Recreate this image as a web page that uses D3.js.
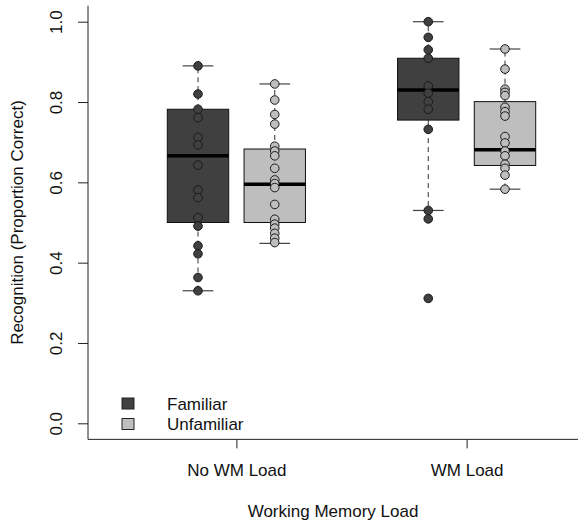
<!DOCTYPE html>
<html>
<meta charset="utf-8">
<title>Recognition by WM load</title>
<style>
  html, body {
    margin: 0;
    padding: 0;
    background: #fff;
}

svg text {
    font-family: "Liberation Sans", Arial, Helvetica, sans-serif;
    font-size: 17px;
    fill: #111;
}

.frame {
    fill: none;
    stroke: #222;
    stroke-width: 1;
}

.whisker {
    stroke: #333;
    stroke-dasharray: 5,4;
}

.cap {
    stroke: #444;
    stroke-width: 1.2;
}

.box {
    stroke: #111;
    stroke-width: 1;
}

.median {
    stroke: #000;
    stroke-width: 3.5;
}

.dot {
    stroke: #1a1a1a;
    stroke-width: 1;
}
</style>

<body>
    <div id="chart"></div>
    <script src="https://d3js.org/d3.v7.min.js"></script>
    <script>
    // groups on the x axis and the two conditions inside each
    var groups = ["No WM Load", "WM Load"];
    var conditions = ["Familiar", "Unfamiliar"];
    var colors = ["#404040", "#bebebe"];

    // individual scores (proportion correct)
    var familiarNoLoad = [0.890, 0.820, 0.782, 0.761, 0.712, 0.693, 0.643, 0.581, 0.562, 0.512, 0.491, 0.442, 0.422, 0.363, 0.330];
    var unfamiliarNoLoad = [0.845, 0.805, 0.769, 0.745, 0.690, 0.678, 0.666, 0.635, 0.606, 0.597, 0.587, 0.545, 0.508, 0.496, 0.486, 0.473, 0.461, 0.450];
    var familiarLoad = [1.000, 0.961, 0.930, 0.909, 0.840, 0.822, 0.801, 0.782, 0.732, 0.530, 0.509, 0.311];
    var unfamiliarLoad = [0.932, 0.882, 0.832, 0.824, 0.816, 0.787, 0.776, 0.765, 0.714, 0.698, 0.678, 0.666, 0.645, 0.635, 0.618, 0.583];

    // box statistics, one entry per box (NoLoad-Fam, NoLoad-Unfam, Load-Fam, Load-Unfam)
    var whiskerLow = [0.330, 0.448, 0.530, 0.583];
    var lowerHinge = [0.500, 0.500, 0.755, 0.642];
    var medians = [0.666, 0.595, 0.830, 0.681];
    var upperHinge = [0.782, 0.683, 0.909, 0.801];
    var whiskerHigh = [0.890, 0.845, 1.000, 0.932];

    var yTicks = [0, 0.2, 0.4, 0.6, 0.8, 1.0];

    var width = 581,
        height = 524;

    var scores = [familiarNoLoad, unfamiliarNoLoad, familiarLoad, unfamiliarLoad];
    var boxes = scores.map(function(vals, i) {
        var g = Math.floor(i / 2), c = i % 2;
        return {
            group: g,
            cond: c,
            pos: g * 3 + 1 + c,
            values: vals,
            lo: whiskerLow[i],
            q1: lowerHinge[i],
            med: medians[i],
            q3: upperHinge[i],
            hi: whiskerHigh[i]
        };
    });

    var x = d3.scaleLinear().domain([1, 5]).range([198, 505]);
    var y = d3.scaleLinear().domain([0, 1]).range([423.3, 21.7]);
    var boxWidth = x(1.8) - x(1);
    var capWidth = x(1.4) - x(1);
    var plotLeft = 88, plotRight = 578;
    var plotBottom = y(-0.04), plotTop = y(1.04);

    var svg = d3.select("#chart").append("svg")
        .attr("width", width)
        .attr("height", height);

    svg.append("rect")
        .attr("width", width)
        .attr("height", height)
        .attr("fill", "#fff");

    // L-shaped frame
    svg.append("path")
        .attr("class", "frame")
        .attr("d", "M" + plotLeft + "," + plotTop + "V" + plotBottom + "H" + plotRight);

    // y axis
    var yAxis = svg.append("g")
        .attr("transform", "translate(" + plotLeft + ",0)")
        .call(d3.axisLeft(y).tickValues(yTicks).tickFormat(d3.format(".1f")).tickSize(10));
    yAxis.select(".domain").remove();
    yAxis.selectAll("line").attr("stroke", "#222");
    yAxis.selectAll("text")
        .attr("transform", "rotate(-90)")
        .attr("x", 0)
        .attr("y", -26)
        .attr("dy", 0)
        .attr("text-anchor", "middle")
        .style("font-size", "17px")
        .style("font-family", null);

    // x axis
    var xAxis = svg.append("g")
        .attr("transform", "translate(0," + plotBottom + ")")
        .call(d3.axisBottom(x)
            .tickValues(groups.map(function(d, i) { return i * 3 + 1.5; }))
            .tickFormat(function(d, i) { return groups[i]; })
            .tickSize(9));
    xAxis.select(".domain").remove();
    xAxis.selectAll("line").attr("stroke", "#222");
    xAxis.selectAll("text")
        .attr("y", 37)
        .attr("dy", 0)
        .style("font-size", "17px")
        .style("font-family", null);

    // axis titles
    svg.append("text")
        .attr("x", (plotLeft + plotRight) / 2)
        .attr("y", 517)
        .attr("text-anchor", "middle")
        .text("Working Memory Load");

    svg.append("text")
        .attr("transform", "translate(23," + y(0.5) + ") rotate(-90)")
        .attr("text-anchor", "middle")
        .text("Recognition (Proportion Correct)");

    var box = svg.append("g").selectAll(".boxg")
        .data(boxes)
        .enter().append("g")
        .attr("class", "boxg");

    // whiskers
    box.append("line")
        .attr("class", "whisker")
        .attr("x1", function(d) { return x(d.pos); })
        .attr("x2", function(d) { return x(d.pos); })
        .attr("y1", function(d) { return y(d.q3); })
        .attr("y2", function(d) { return y(d.hi); });
    box.append("line")
        .attr("class", "whisker")
        .attr("x1", function(d) { return x(d.pos); })
        .attr("x2", function(d) { return x(d.pos); })
        .attr("y1", function(d) { return y(d.q1); })
        .attr("y2", function(d) { return y(d.lo); });

    // caps
    ["hi", "lo"].forEach(function(k) {
        box.append("line")
            .attr("class", "cap")
            .attr("x1", function(d) { return x(d.pos) - capWidth / 2; })
            .attr("x2", function(d) { return x(d.pos) + capWidth / 2; })
            .attr("y1", function(d) { return y(d[k]); })
            .attr("y2", function(d) { return y(d[k]); });
    });

    box.append("rect")
        .attr("class", "box")
        .attr("x", function(d) { return x(d.pos) - boxWidth / 2; })
        .attr("width", boxWidth)
        .attr("y", function(d) { return y(d.q3); })
        .attr("height", function(d) { return y(d.q1) - y(d.q3); })
        .attr("fill", function(d) { return colors[d.cond]; });

    box.append("line")
        .attr("class", "median")
        .attr("x1", function(d) { return x(d.pos) - boxWidth / 2; })
        .attr("x2", function(d) { return x(d.pos) + boxWidth / 2; })
        .attr("y1", function(d) { return y(d.med); })
        .attr("y2", function(d) { return y(d.med); });

    // points on top
    box.selectAll(".dot")
        .data(function(d) {
            return d.values.map(function(v) { return {pos: d.pos, cond: d.cond, v: v}; });
        })
        .enter().append("circle")
        .attr("class", "dot")
        .attr("cx", function(d) { return x(d.pos); })
        .attr("cy", function(d) { return y(d.v); })
        .attr("r", 4.3)
        .attr("fill", function(d) { return colors[d.cond]; });

    // legend
    var legend = svg.append("g").selectAll(".legend")
        .data(conditions)
        .enter().append("g")
        .attr("class", "legend")
        .attr("transform", function(d, i) { return "translate(122," + (398 + i * 20.5) + ")"; });

    legend.append("rect")
        .attr("width", 12)
        .attr("height", 11)
        .attr("fill", function(d, i) { return colors[i]; })
        .attr("stroke", "#222");

    legend.append("text")
        .attr("x", 45)
        .attr("y", 11.5)
        .text(function(d) { return d; });
    </script>
</body>
</html>
